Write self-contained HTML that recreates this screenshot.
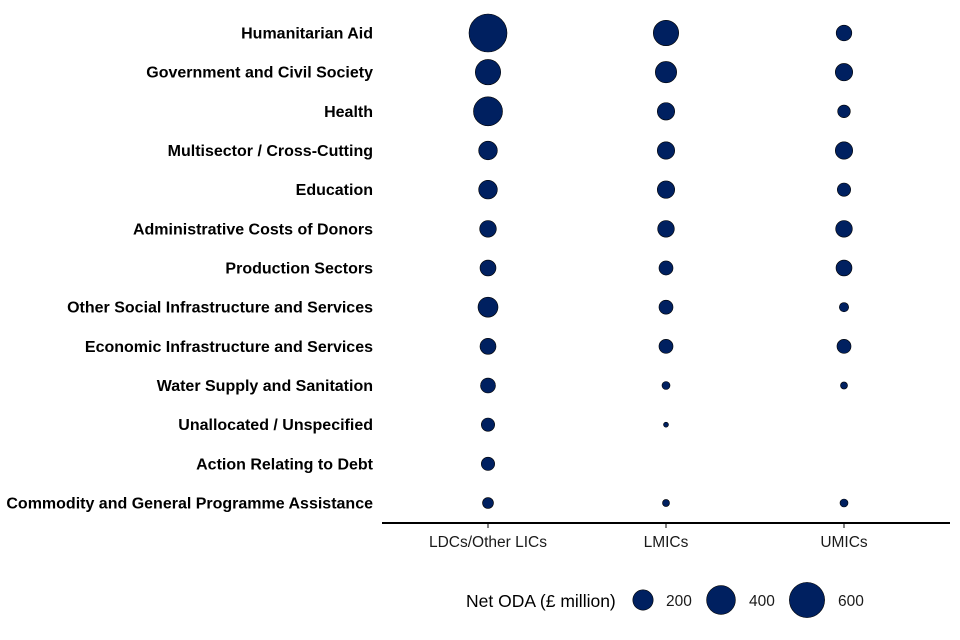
<!DOCTYPE html>
<html><head><meta charset="utf-8"><style>
body{margin:0;background:#fff;}
svg{display:block;font-family:"Liberation Sans",Arial,sans-serif;}
</style></head><body>
<svg id="chart" width="960" height="640"></svg>
<script>
const sectors=["Humanitarian Aid","Government and Civil Society","Health","Multisector / Cross-Cutting","Education","Administrative Costs of Donors","Production Sectors","Other Social Infrastructure and Services","Economic Infrastructure and Services","Water Supply and Sanitation","Unallocated / Unspecified","Action Relating to Debt","Commodity and General Programme Assistance"];
const groups=["LDCs/Other LICs","LMICs","UMICs"];
const ldcValues=[696,311,406,168,168,134,123,193,123,108,86,86,58];
const lmicValues=[311,220,146,146,146,134,95,95,95,31,12,null,24];
const umicValues=[118,146,77,146,86,134,123,42,95,24,null,null,31];
const legendValues=[200,400,600];
const legendLabels=["200","400","600"];

const NS="http://www.w3.org/2000/svg";
const svg=document.getElementById('chart');
function mk(t,a,txt){const e=document.createElementNS(NS,t);for(const k in a)e.setAttribute(k,a[k]);if(txt!=null)e.textContent=txt;svg.appendChild(e);return e;}
const yScale=i=>33+i*(470/12);
const xScale=j=>488+j*178;
const rScale=v=>0.72*Math.sqrt(v);
const series=[ldcValues,lmicValues,umicValues];

sectors.forEach((s,i)=>{
  const t=mk('text',{x:373,y:yScale(i)+5.5,'text-anchor':'end','font-size':16,'font-weight':'bold',fill:'#000'},s);
  
  
});
series.forEach((vals,j)=>{
  vals.forEach((v,i)=>{
    if(v==null)return;
    const c=mk('circle',{cx:xScale(j),cy:yScale(i),r:rScale(v),fill:'#002060',stroke:'#000','stroke-width':0.6});
    
    
  });
});
const ax=mk('line',{x1:382,x2:950,y1:523,y2:523,stroke:'#000','stroke-width':2});


groups.forEach((g,j)=>{
  const tk=mk('line',{x1:xScale(j),x2:xScale(j),y1:523,y2:528,stroke:'#000','stroke-width':1});
  
  
  const t=mk('text',{x:xScale(j),y:547,'text-anchor':'middle','font-size':15.5,fill:'#1a1a1a'},g);
  
  
});
const lt=mk('text',{x:466,y:607,'font-size':17.5,fill:'#000'},'Net ODA (£ million)');


const lx=[643,721,807];
const lxt=[666,749,838];
legendValues.forEach((v,k)=>{
  const c=mk('circle',{cx:lx[k],cy:600,r:rScale(v),fill:'#002060',stroke:'#000','stroke-width':0.6});
  
  
  const t=mk('text',{x:lxt[k],y:606,'font-size':15.5,fill:'#1a1a1a'},legendLabels[k]);
  
  
});
</script>
</body></html>
